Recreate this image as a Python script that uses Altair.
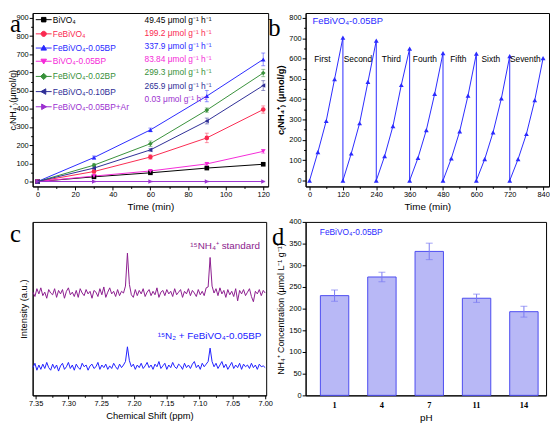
import altair as alt
import pandas as pd

# ------------------------------------------------------------------ data
# panel a : NH4+ yield vs time
time_min = [0, 30, 60, 90, 120]
series_a = ["BiVO₄", "FeBiVO₄", "FeBiVO₄-0.05BP", "BiVO₄-0.05BP",
            "FeBiVO₄-0.02BP", "FeBiVO₄-0.10BP", "FeBiVO₄-0.05BP+Ar"]
rates_a = ["49.45 μmol g⁻¹ h⁻¹", "199.2 μmol g⁻¹ h⁻¹", "337.9 μmol g⁻¹ h⁻¹",
           "83.84 μmol g⁻¹ h⁻¹", "299.3 μmol g⁻¹ h⁻¹", "265.9 μmol g⁻¹ h⁻¹",
           "0.03 μmol g⁻¹ h⁻¹"]
y_bivo4 = [0, 26, 48, 74, 95]
y_febivo4 = [0, 55, 135, 240, 396]
y_fe_005bp = [0, 132, 284, 470, 672]
y_bivo4_005bp = [0, 30, 58, 97, 166]
y_fe_002bp = [0, 90, 208, 393, 597]
y_fe_010bp = [0, 74, 174, 333, 528]
y_fe_005bp_ar = [0, 0, 0, 0, 0]
e_bivo4 = [5, 3, 3, 4, 4]
e_febivo4 = [6, 8, 12, 26, 20]
e_fe_005bp = [10, 8, 10, 31, 35]
e_bivo4_005bp = [5, 4, 5, 8, 10]
e_fe_002bp = [6, 8, 15, 12, 20]
e_fe_010bp = [6, 6, 8, 16, 27]
e_fe_005bp_ar = [2, 2, 2, 2, 2]

# panel b : seven recycling runs
time_b = [0, 30, 60, 90, 120, 120, 150, 180, 210, 240, 240, 270, 300, 330, 360,
          360, 390, 420, 450, 480, 480, 510, 540, 570, 600, 600, 630, 660, 690, 720,
          720, 750, 780, 810, 840]
conc_b = [0, 140, 293, 499, 703, 0, 133, 282, 485, 688, 0, 120, 268, 470, 649,
          0, 111, 248, 426, 627, 0, 109, 242, 418, 624, 0, 105, 237, 404, 612,
          0, 105, 229, 395, 602]
run_names = ["First", "Second", "Third", "Fourth", "Fifth", "Sixth", "Seventh"]
run_label_time = [46, 174, 294, 415, 535, 652, 776]
run_label_conc = [600, 600, 600, 600, 600, 600, 600]

# panel c : 1H NMR spectra
ppm = [round(7.354 - 0.003 * i, 3) for i in range(119)]
nmr_standard = [
    11.9, 11.4, 12.3, 11.7, 12.4, 11.5, 11.9, 11.2, 12.2, 11.8,
    11.6, 12.3, 11.3, 12.1, 11.7, 12.2, 11.2, 12.0, 12.4, 11.6,
    11.9, 11.4, 12.1, 11.3, 12.3, 11.8, 11.5, 12.2, 11.7, 12.0,
    11.2, 12.1, 11.9, 11.4, 12.3, 11.6, 12.5, 11.3, 11.9, 12.4,
    11.7, 12.0, 11.4, 12.2, 11.5, 12.0, 11.8, 12.6, 16.4, 12.8,
    11.6, 11.3, 12.2, 11.5, 12.1, 11.7, 12.3, 11.4, 11.9, 12.2,
    11.5, 12.0, 11.6, 12.4, 11.3, 11.9, 12.1, 11.5, 12.2, 11.7,
    12.0, 11.4, 12.3, 11.6, 11.9, 12.2, 11.3, 12.0, 11.7, 12.3,
    11.5, 12.1, 11.8, 11.4, 12.2, 11.6, 12.0, 11.5, 12.4, 12.5,
    15.9, 12.6, 11.8, 12.3, 11.5, 12.4, 11.7, 12.1, 11.3, 12.2,
    11.6, 12.0, 11.4, 12.3, 10.9, 12.1, 11.7, 12.2, 11.5, 11.9,
    12.3, 11.4, 10.8, 12.0, 11.7, 12.2, 11.5, 12.1, 11.8]
nmr_sample = [
    3.2, 3.7, 2.9, 3.5, 3.0, 3.6, 3.1, 3.8, 3.2, 2.9,
    3.6, 3.1, 3.5, 2.8, 3.4, 3.7, 3.0, 3.3, 3.8, 3.1,
    3.5, 2.9, 3.6, 3.2, 3.0, 3.7, 3.3, 3.5, 2.9, 3.4,
    3.6, 3.1, 3.3, 3.8, 3.0, 3.5, 3.2, 3.6, 3.0, 3.4,
    3.1, 3.7, 3.3, 3.0, 3.6, 3.2, 3.5, 3.9, 5.6, 4.0,
    3.3, 3.6, 3.0, 3.5, 3.2, 3.7, 3.1, 3.4, 3.8, 3.2,
    3.5, 3.0, 3.6, 3.3, 3.9, 3.1, 3.4, 3.7, 3.0, 3.5,
    3.2, 3.8, 3.3, 3.1, 3.6, 3.4, 3.0, 3.7, 3.2, 3.5,
    3.1, 3.6, 3.9, 3.2, 3.5, 3.0, 3.7, 3.3, 3.6, 3.9,
    5.45, 3.9, 3.3, 3.7, 3.1, 3.5, 3.9, 3.2, 3.6, 3.0,
    3.4, 3.8, 3.1, 3.5, 3.2, 3.7, 3.0, 3.6, 3.3, 3.5,
    3.1, 3.7, 3.2, 3.5, 3.0, 3.6, 3.3, 3.4, 3.2]
spectra = ["¹⁵NH₄⁺ standard", "¹⁵N₂ + FeBiVO₄-0.05BP"]
spectra_label_ppm = [7.008, 7.006]
spectra_label_int = [17.2, 6.8]

# panel d : effect of pH
ph = ["1", "4", "7", "11", "14"]
nh4 = [230, 273, 332, 224, 193]
nh4_err = [13, 11, 19, 9.5, 12.5]

# panel letters (annotation anchors in each panel's data space)
letter_a = (-14.67, 824)
letter_b = (-148.9, 712)
letter_c = (7.389, 17.7)
letter_d = ("1", 347)

# ------------------------------------------------------------------ styles
FONT = "Liberation Sans"
SERIF = "Liberation Serif"
H = 176
colors_a = ["#000000", "#fa2a50", "#2a2aff", "#f52ad8", "#38903a", "#2e2e96", "#9b30d0"]
shapes_a = ["square", "circle", "triangle-up", "triangle-down", "diamond",
            "triangle-left", "triangle-right"]
legend_marks = ["M-0.65,-0.65H0.65V0.65H-0.65Z",
                "M0.75,0A0.75,0.75,0,1,1,-0.75,0A0.75,0.75,0,1,1,0.75,0Z",
                "M0,-0.8L0.8,0.6L-0.8,0.6Z",
                "M0,0.8L0.8,-0.6L-0.8,-0.6Z",
                "M0,-0.9L0.9,0L0,0.9L-0.9,0Z",
                "M-0.8,0L0.6,-0.8L0.6,0.8Z",
                "M0.8,0L-0.6,-0.8L-0.6,0.8Z"]
BLUE = "#2a2aff"
PURPLE = "#8b1c8e"


def axis(major, minor, title, **kw):
    minor = list(minor)
    cond = f"indexof({minor}, datum.value) >= 0"
    opts = dict(grid=False, domainColor="black", tickColor="black", labelColor="black",
                titleColor="black", labelFont=FONT, titleFont=FONT, labelFontSize=7.5,
                titleFontSize=10, titleFontWeight="normal", labelPadding=1,
                labelOverlap=False, labelFlush=False, domainWidth=1, tickWidth=1)
    opts.update(kw)
    return alt.Axis(values=sorted(list(major) + minor), title=title,
                    tickSize={"condition": {"test": cond, "value": 2}, "value": 3.5},
                    labelExpr=f"{cond} ? '' : datum.label", **opts)


def case_expr(keys, vals, default):
    expr = f"'{default}'"
    for k, v in reversed(list(zip(keys, vals))):
        expr = f"datum.value === '{k}' ? '{v}' : ({expr})"
    return alt.ExprRef(expr=expr)


def letter_layer(txt, x_enc, y_enc, row, **kw):
    df = pd.DataFrame({x_enc.shorthand.split(":")[0]: [row[0]],
                       y_enc.shorthand.split(":")[0]: [row[1]], "letter": [txt]})
    return alt.Chart(df).mark_text(font=SERIF, fontSize=25, color="black", align="left",
                                   baseline="alphabetic", **kw).encode(
        x=x_enc, y=y_enc, text="letter:N")


# ------------------------------------------------------------------ panel a
rows = []
for name, vals, errs in zip(series_a,
                            [y_bivo4, y_febivo4, y_fe_005bp, y_bivo4_005bp, y_fe_002bp,
                             y_fe_010bp, y_fe_005bp_ar],
                            [e_bivo4, e_febivo4, e_fe_005bp, e_bivo4_005bp, e_fe_002bp,
                             e_fe_010bp, e_fe_005bp_ar]):
    for t, v, e in zip(time_min, vals, errs):
        rows.append({"series": name, "time": t, "value": v, "lo": v - e, "hi": v + e})
df_a = pd.DataFrame(rows)
df_names = pd.DataFrame({"series": series_a})
df_rates = pd.DataFrame({"rate": rates_a})

xa = alt.Scale(domain=[-2.62, 122.62], nice=False, zero=False)
ya = alt.Scale(domain=[-27.1, 927.1], nice=False, zero=False)
ax_xa = axis(range(0, 121, 20), range(10, 120, 20), "Time (min)", titlePadding=3)
ax_ya = axis(range(0, 901, 100), range(50, 900, 100), "c₍NH₄⁺₎(μmol/g)",
             titlePadding=-2, titleFontSize=9)
col_a = alt.Scale(domain=series_a, range=colors_a)
shp_a = alt.Scale(domain=series_a, range=shapes_a)
sym_paths = ["M-2.3,0H2.3" + p for p in legend_marks]
leg_a = alt.Legend(
    title=None, orient="none", legendX=7, legendY=2.5, padding=0, rowPadding=4.4,
    labelFont=FONT, labelFontSize=8.5, labelOffset=5, labelLimit=250,
    symbolSize=49, symbolStrokeWidth=1, symbolOpacity=1,
    symbolType=case_expr(series_a, sym_paths, "circle"),
    labelColor=case_expr(series_a, colors_a, "black"))
leg_rates = alt.Legend(
    title=None, orient="none", legendX=105, legendY=2.5, padding=0, rowPadding=4.4,
    labelFont=FONT, labelFontSize=8.5, labelOffset=0, labelLimit=250,
    symbolSize=0, symbolStrokeWidth=0, symbolOpacity=0,
    labelColor=case_expr(rates_a, colors_a, "black"))

Xa = alt.X("time:Q", scale=xa, axis=ax_xa)
Ya = alt.Y("value:Q", scale=ya, axis=ax_ya)
Ca = alt.Color("series:N", scale=col_a, legend=None)
base_a = alt.Chart(df_a)
lines_a = base_a.mark_line(strokeWidth=1).encode(x=Xa, y=Ya, color=Ca)
errs_a = base_a.mark_errorbar(ticks=True, size=4, thickness=1, orient="vertical").encode(
    x=Xa, y=alt.Y("lo:Q", scale=ya, axis=ax_ya), y2="hi:Q", color=Ca,
    opacity=alt.value(0.5))
pts_a = base_a.mark_point(filled=True, size=22, opacity=1).encode(
    x=Xa, y=Ya, color=Ca, shape=alt.Shape("series:N", scale=shp_a, legend=None))
key_names = alt.Chart(df_names).mark_point(size=0, filled=True).encode(
    fill=alt.Fill("series:N", sort=None, scale=alt.Scale(range=colors_a), legend=leg_a),
    stroke=alt.Stroke("series:N", sort=None, scale=alt.Scale(range=colors_a), legend=leg_a))
key_rates = alt.Chart(df_rates).mark_point(size=0).encode(
    strokeDash=alt.StrokeDash("rate:N", sort=None, legend=leg_rates))
let_a = letter_layer("a", alt.X("time:Q", scale=xa, axis=ax_xa),
                     alt.Y("value:Q", scale=ya, axis=ax_ya), letter_a)
pa = alt.layer(lines_a, errs_a, pts_a, key_names, key_rates, let_a).properties(
    width=239, height=H)

# ------------------------------------------------------------------ panel b
df_b = pd.DataFrame({"t": time_b, "c": conc_b, "idx": list(range(len(time_b)))})
df_b_lab = pd.DataFrame({"t": run_label_time, "c": run_label_conc, "label": run_names})
df_b_name = pd.DataFrame({"t": [10.6], "c": [785], "label": ["FeBiVO₄-0.05BP"]})
xb = alt.Scale(domain=[-14.18, 861.3], nice=False, zero=False)
yb = alt.Scale(domain=[-29.1, 824.2], nice=False, zero=False)
ax_xb = axis(range(0, 841, 120), range(60, 841, 120), "Time (min)", titlePadding=3)
ax_yb = axis(range(0, 801, 100), range(50, 800, 100), "c₍NH₄⁺₎ (μmol/g)",
             titleFontWeight="bold", titlePadding=3, titleFontSize=9.5)
Xb = alt.X("t:Q", scale=xb, axis=ax_xb)
Yb = alt.Y("c:Q", scale=yb, axis=ax_yb)
line_b = alt.Chart(df_b).mark_line(color=BLUE, strokeWidth=1).encode(
    x=Xb, y=Yb, order="idx:Q")
pts_b = alt.Chart(df_b).mark_point(filled=True, shape="triangle-up", size=24,
                                   color=BLUE, opacity=1).encode(x=Xb, y=Yb)
lab_b = alt.Chart(df_b_lab).mark_text(font=FONT, fontSize=8.5, color="black").encode(
    x=Xb, y=Yb, text="label:N")
name_b = alt.Chart(df_b_name).mark_text(font=FONT, fontSize=9.5, color=BLUE,
                                        align="left").encode(x=Xb, y=Yb, text="label:N")
let_b = letter_layer("b", Xb, Yb, letter_b)
pb = alt.layer(line_b, pts_b, lab_b, name_b, let_b).properties(width=247, height=H)

# ------------------------------------------------------------------ panel c
df_c = pd.DataFrame({"ppm": ppm * 2, "inten": nmr_standard + nmr_sample,
                     "spec": [spectra[0]] * len(ppm) + [spectra[1]] * len(ppm)})
df_c_lab = pd.DataFrame({"ppm": spectra_label_ppm, "inten": spectra_label_int,
                         "spec": spectra})
xc = alt.Scale(domain=[6.9985, 7.3545], reverse=True, nice=False, zero=False)
yc = alt.Scale(domain=[0, 20], nice=False, zero=False)
ax_xc = axis([7.35, 7.3, 7.25, 7.2, 7.15, 7.1, 7.05, 7.0],
             [7.325, 7.275, 7.225, 7.175, 7.125, 7.075, 7.025],
             "Chemical Shift (ppm)", format=".2f", titleFontSize=9.5, titlePadding=3)
ax_yc = alt.Axis(labels=False, ticks=False, grid=False, title="Intensity (a.u.)",
                 titleFont=FONT, titleFontSize=9.5, titleFontWeight="normal",
                 titleColor="black", domainColor="black", titlePadding=4)
col_c = alt.Scale(domain=spectra, range=[PURPLE, "#2020ff"])
Xc = alt.X("ppm:Q", scale=xc, axis=ax_xc)
Yc = alt.Y("inten:Q", scale=yc, axis=ax_yc)
lines_c = alt.Chart(df_c).mark_line(strokeWidth=1).encode(
    x=Xc, y=Yc, color=alt.Color("spec:N", scale=col_c, legend=None))
lab_c = alt.Chart(df_c_lab).mark_text(font=FONT, fontSize=10, align="right").encode(
    x=Xc, y=Yc, text="spec:N", color=alt.Color("spec:N", scale=col_c, legend=None))
let_c = letter_layer("c", Xc, Yc, letter_c)
pc = alt.layer(lines_c, lab_c, let_c).properties(width=237, height=H)

# ------------------------------------------------------------------ panel d
df_d = pd.DataFrame({"ph": ph, "v": nh4,
                     "lo": [v - e for v, e in zip(nh4, nh4_err)],
                     "hi": [v + e for v, e in zip(nh4, nh4_err)]})
df_d_lab = pd.DataFrame({"ph": ["1"], "v": [377], "label": ["FeBiVO₄-0.05BP"]})
xd = alt.Scale(domain=ph, paddingInner=0.4, paddingOuter=0.24, align=0.65)
ax_xd = alt.Axis(title="pH", labelFont=SERIF, labelFontWeight="bold", labelFontSize=8.5,
                 labelAngle=0, ticks=False, grid=False, labelColor="black",
                 titleFont=FONT, titleFontSize=10, titleFontWeight="normal",
                 titleColor="black", domainColor="black", labelPadding=5, titlePadding=4)
yd = alt.Scale(domain=[0, 400], nice=False, zero=False)
ax_yd = axis(range(0, 401, 50), [], "NH₄⁺ Concentration (μmol L⁻¹ g⁻¹)",
             titleFontSize=9, titlePadding=3)
Xd = alt.X("ph:N", sort=ph, scale=xd, axis=ax_xd)
Yd = alt.Y("v:Q", scale=yd, axis=ax_yd)
bars_d = alt.Chart(df_d).mark_bar(fill="#b8b8f6", stroke="#4b4bf0", strokeWidth=1).encode(
    x=Xd, y=Yd)
err_d = alt.Chart(df_d).mark_errorbar(ticks=True, size=7, thickness=1, color="#7a7af2",
                                      orient="vertical").encode(
    x=Xd, y=alt.Y("lo:Q", scale=yd, axis=ax_yd), y2="hi:Q")
lab_d = alt.Chart(df_d_lab).mark_text(font=FONT, fontSize=8.5, color=BLUE, align="left",
                                      dx=-15).encode(x=Xd, y=Yd, text="label:N")
let_d = letter_layer("d", Xd, Yd, letter_d, dx=-63.5)
pd_ = alt.layer(bars_d, err_d, lab_d, let_d).properties(width=244, height=H)

# ------------------------------------------------------------------ compose
chart = alt.concat(pa, pb, pc, pd_, columns=2, spacing={"row": 36, "column": 38},
                   bounds="flush", align="each").resolve_scale(
    color="independent").properties(
    padding=0, background="white").configure_view(stroke="black", strokeWidth=1)

chart.save("out.html", embed_options={"renderer": "svg", "actions": False})
